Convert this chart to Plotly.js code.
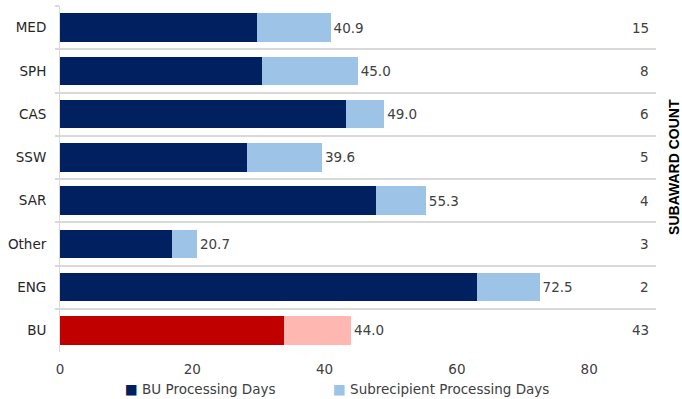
<!DOCTYPE html>
<html>
<head>
<meta charset="utf-8">
<script src="https://cdn.plot.ly/plotly-3.0.1.min.js"></script>
<style>
  html, body { margin: 0; padding: 0; background: #fff; }
  #chart { width: 682px; height: 399px; }
</style>
</head>
<body>
<div id="chart"></div>
<script>
// Processing days per school: BU share and total (BU + subrecipient)
const schools = ["MED", "SPH", "CAS", "SSW", "SAR", "Other", "ENG", "BU"];
const buDays = [29.8, 30.5, 43.2, 28.2, 47.8, 17.0, 63.0, 33.9];
const totalDays = [40.9, 45.0, 49.0, 39.6, 55.3, 20.7, 72.5, 44.0];
const subawardCount = [15, 8, 6, 5, 4, 3, 2, 43];
const seriesNames = ["BU Processing Days", "Subrecipient Processing Days"];

const subDays = totalDays.map((t, i) => +(t - buDays[i]).toFixed(1));

const NAVY = "#002060", LIGHT = "#9DC3E6", RED = "#C00000", PINK = "#FFB8B1";
const isAll = s => s === "BU";
const FONT = "DejaVu Sans, Verdana, sans-serif";
const TXT = "#404040";
const FS = 13.5;

const traces = [
  {
    type: "bar", orientation: "h", name: seriesNames[0],
    y: schools, x: buDays,
    marker: { color: schools.map(s => isAll(s) ? RED : NAVY) },
    width: 0.66, hoverinfo: "x+y"
  },
  {
    type: "bar", orientation: "h", name: seriesNames[1],
    y: schools, x: subDays,
    marker: { color: schools.map(s => isAll(s) ? PINK : LIGHT) },
    width: 0.66,
    text: totalDays.map(v => v.toFixed(1)),
    textposition: "outside", cliponaxis: false,
    textfont: { family: FONT, size: FS, color: TXT },
    hoverinfo: "x+y"
  }
];

// subaward counts along the right edge of each row
const annotations = schools.map((s, i) => ({
  xref: "paper", yref: "y", x: 1, y: s, xanchor: "right", xshift: -5,
  text: String(subawardCount[i]), showarrow: false,
  font: { family: FONT, size: FS, color: TXT }
}));
annotations.push({
  xref: "paper", yref: "paper", x: 1, y: 0.535, xanchor: "center", xshift: 18,
  text: "<b>SUBAWARD COUNT</b>", textangle: -90, showarrow: false,
  borderpad: 0,
  font: { family: "Liberation Sans, Arial, sans-serif", size: 14, color: "#000" }
});
// legend keys below the axis
[[NAVY, seriesNames[0], 123], [LIGHT, seriesNames[1], 331]].forEach(([c, name, px]) => {
  annotations.push({
    xref: "paper", yref: "paper", x: 0, y: 0, xanchor: "left", yanchor: "middle",
    xshift: px - 60, yshift: -37,
    text: '<span style="color:' + c + '">■</span> ' + name, showarrow: false,
    font: { family: FONT, size: FS, color: TXT }
  });
});

const layout = {
  width: 682, height: 399,
  margin: { l: 60, r: 26, t: 6, b: 47 },
  paper_bgcolor: "#fff", plot_bgcolor: "#fff",
  barmode: "stack",
  showlegend: false,
  font: { family: FONT, size: FS, color: TXT },
  xaxis: {
    range: [0, 90.1], tickvals: [0, 20, 40, 60, 80],
    showgrid: false, zeroline: false, showline: false,
    ticks: "", ticklabelstandoff: 7,
    tickfont: { family: FONT, size: FS, color: TXT }
  },
  yaxis: {
    type: "category", categoryorder: "array", categoryarray: schools,
    autorange: "reversed",
    tickson: "boundaries", ticks: "outside", ticklen: 4, tickcolor: "#D9D9D9", tickwidth: 2,
    showgrid: true, gridcolor: "#D9D9D9", gridwidth: 2,
    showline: true, linecolor: "#D9D9D9", linewidth: 1,
    ticklabelstandoff: 10,
    tickfont: { family: FONT, size: FS, color: "#262626" }
  },
  annotations: annotations
};

Plotly.newPlot("chart", traces, layout, { displayModeBar: false, staticPlot: true });
</script>
</body>
</html>
